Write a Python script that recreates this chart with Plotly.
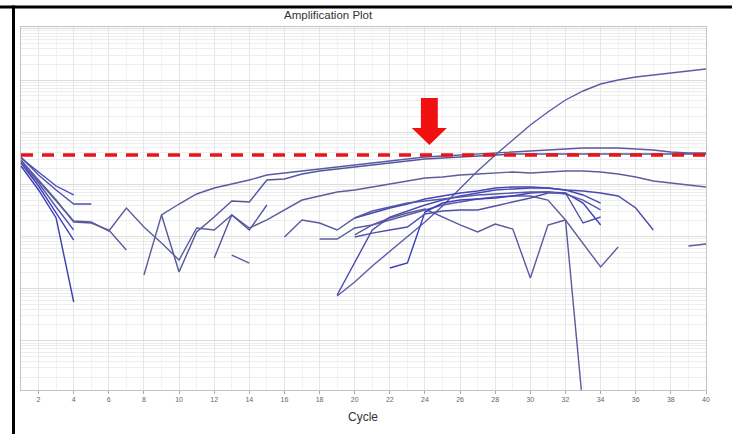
import plotly.graph_objects as go

# ---------------- data (delta Rn, log scale) ----------------
threshold = 0.0366
x_ticks = list(range(2, 41, 2))

c_L1 = [1, 2, 3, 4, 5]
v_L1 = [0.0335, 0.01511, 0.00779, 0.00419, 0.00419]
c_L2 = [1, 2, 3, 4, 5, 6, 7]
v_L2 = [0.0293, 0.01211, 0.00500, 0.00189, 0.00181, 0.00133, 0.000549]
c_L3 = [1, 2, 3, 4]
v_L3 = [0.0257, 0.00929, 0.00282, 0.000854]
c_L4 = [1, 2, 3, 4]
v_L4 = [0.0225, 0.00779, 0.00226, 0.0000552]
c_L5 = [1, 2, 3, 4]
v_L5 = [0.0320, 0.01726, 0.00929, 0.00625]
c_L6 = [1, 2, 3, 4]
v_L6 = [0.0268, 0.01061, 0.00367, 0.00133]

c_A = list(range(19, 41))
v_A = [0.0000719, 0.000133, 0.000271, 0.000525, 0.000976, 0.00189, 0.00384, 0.00851,
       0.01804, 0.0366, 0.0710, 0.1377, 0.2446, 0.416, 0.619, 0.843, 1.006, 1.149,
       1.255, 1.371, 1.498, 1.636]

c_B = list(range(8, 41))
v_B = [0.000182, 0.00258, 0.00419, 0.00653, 0.00851, 0.01015, 0.01211, 0.01511,
       0.01651, 0.01804, 0.0197, 0.0215, 0.0235, 0.0257, 0.0281, 0.0307, 0.0335,
       0.0350, 0.0366, 0.0382, 0.0400, 0.0418, 0.0436, 0.0456, 0.0477, 0.0498,
       0.0498, 0.0498, 0.0477, 0.0456, 0.0418, 0.0400, 0.0400]

c_C = list(range(9, 41))
v_C = [0.00258, 0.000208, 0.00122, 0.00236, 0.00479, 0.00458, 0.01211, 0.01266,
       0.01579, 0.01804, 0.0197, 0.0215, 0.0235, 0.0257, 0.0281, 0.0307, 0.0320,
       0.0335, 0.0350, 0.0366, 0.0382, 0.0382, 0.0382, 0.0382, 0.0382, 0.0382,
       0.0382, 0.0382, 0.0382, 0.0382, 0.0382, 0.0382]

c_D = list(range(1, 41))
v_D = [0.0281, 0.01159, 0.00479, 0.00198, 0.00189, 0.00127, 0.00351, 0.00152,
       0.000748, 0.000353, 0.00145, 0.00133, 0.00258, 0.00145, 0.00207, 0.00322,
       0.00500, 0.00597, 0.00713, 0.00779, 0.00889, 0.01015, 0.01159, 0.01323,
       0.01383, 0.01511, 0.01579, 0.01651, 0.01726, 0.01651, 0.01726, 0.01804,
       0.01804, 0.01726, 0.01579, 0.01383, 0.01159, 0.01061, 0.00971, 0.00889]

c_E = [12, 13, 14, 15]
v_E = [0.000385, 0.00258, 0.00133, 0.00401]
c_F = [13, 14]
v_F = [0.000440, 0.000309]

c_K = list(range(20, 34))
v_K = [0.00107, 0.00166, 0.00226, 0.00282, 0.00336, 0.00236, 0.00166, 0.00122,
       0.00173, 0.00139, 0.000159, 0.00166, 0.00207, 0.0000005]

c_P = list(range(18, 36))
v_P = [0.000893, 0.000893, 0.00145, 0.00166, 0.00207, 0.00258, 0.00322, 0.00401,
       0.00458, 0.00523, 0.00571, 0.00597, 0.00597, 0.00500, 0.00207, 0.000748,
       0.000259, 0.000627]

c_M = list(range(19, 38))
v_M = [0.0000752, 0.000323, 0.00133, 0.00236, 0.00308, 0.00401, 0.00500, 0.00597,
       0.00682, 0.00779, 0.00814, 0.00851, 0.00851, 0.00779, 0.00745, 0.00682,
       0.00597, 0.00351, 0.00133]

c_O = list(range(22, 35))
v_O = [0.000248, 0.000309, 0.00294, 0.00438, 0.00500, 0.00523, 0.00547, 0.00597,
       0.00682, 0.00713, 0.00682, 0.00438, 0.00166]

c_Q = list(range(20, 35))
v_Q = [0.00226, 0.00282, 0.00351, 0.00419, 0.00523, 0.00597, 0.00682, 0.00745,
       0.00851, 0.00889, 0.00889, 0.00851, 0.00779, 0.00625, 0.00438]

c_R = list(range(20, 35))
v_R = [0.000976, 0.00116, 0.00133, 0.00152, 0.00270, 0.00308, 0.00322, 0.00322,
       0.00384, 0.00458, 0.00547, 0.00682, 0.00682, 0.00181, 0.00236]

c_S = list(range(16, 35))
v_S = [0.000976, 0.00207, 0.00181, 0.00133, 0.00226, 0.00308, 0.00367, 0.00438,
       0.00479, 0.00523, 0.00571, 0.00625, 0.00653, 0.00682, 0.00713, 0.00713,
       0.00653, 0.00500, 0.00322]

c_N = [39, 40]
v_N = [0.000655, 0.000716]

curves = [
    (c_L1, v_L1, "#4f4fb0"), (c_L2, v_L2, "#5a5a98"), (c_L3, v_L3, "#3f3fc0"),
    (c_L4, v_L4, "#3c3cb8"), (c_L5, v_L5, "#4a4ac4"), (c_L6, v_L6, "#5555b0"),
    (c_A, v_A, "#5c5ca6"), (c_B, v_B, "#5a5aa0"), (c_C, v_C, "#55559c"),
    (c_D, v_D, "#5d5d9c"), (c_E, v_E, "#55559e"), (c_F, v_F, "#5a5a9a"),
    (c_K, v_K, "#5a5aa0"), (c_P, v_P, "#5d5d9d"), (c_M, v_M, "#4a4ab0"),
    (c_O, v_O, "#3d3dc4"), (c_Q, v_Q, "#4545bb"), (c_R, v_R, "#5050aa"),
    (c_S, v_S, "#5858a4"), (c_N, v_N, "#5a5aa0"),
]

# ---------------- figure ----------------
fig = go.Figure()
for cx, vy, col in curves:
    fig.add_trace(go.Scatter(x=cx, y=vy, mode="lines",
                             line=dict(color=col, width=1.4),
                             hoverinfo="skip", showlegend=False))

W, H = 732, 434
ml, mr, mt, mb = 21, 26, 27, 44
pw, ph = W - ml - mr, H - mt - mb

def px(xp):
    return (xp - ml) / pw

def py(yp):
    return (H - mb - yp) / ph

shapes = []
# threshold line
shapes.append(dict(type="line", xref="paper", yref="y", x0=0, x1=1,
                   y0=threshold, y1=threshold,
                   line=dict(color="#e8141a", width=3.5, dash="12px,9px")))
# red arrow pointing at the threshold near cycle 24
ac = 24.25
yt, yn, yk = 0.8044, 0.7218, 0.6749
path = (f"M {ac-0.48},{yt} L {ac+0.48},{yt} L {ac+0.48},{yn} L {ac+1.0},{yn} "
        f"L {ac},{yk} L {ac-1.0},{yn} L {ac-0.48},{yn} Z")
shapes.append(dict(type="path", xref="x", yref="paper", path=path,
                   fillcolor="#f01010", line=dict(width=0)))
# black picture frame (top and left)
shapes.append(dict(type="line", xref="paper", yref="paper",
                   x0=px(0), x1=px(W), y0=py(7), y1=py(7),
                   line=dict(color="black", width=3)))
shapes.append(dict(type="line", xref="paper", yref="paper",
                   x0=px(13.5), x1=px(13.5), y0=py(H), y1=py(5.5),
                   line=dict(color="black", width=3)))

annotations = [
    dict(text="Amplification Plot", xref="paper", yref="paper",
         x=px(328.5), y=py(15), showarrow=False, xanchor="center", yanchor="middle",
         font=dict(size=11.5, color="#333333", family="Liberation Sans, Arial")),
    dict(text="Cycle", xref="paper", yref="paper",
         x=px(363), y=py(417), showarrow=False, xanchor="center", yanchor="middle",
         font=dict(size=12, color="#333333", family="Liberation Sans, Arial")),
]

fig.update_layout(
    width=W, height=H, autosize=False,
    margin=dict(l=ml, r=mr, t=mt, b=mb),
    paper_bgcolor="white", plot_bgcolor="white",
    shapes=shapes, annotations=annotations,
    xaxis=dict(range=[1, 40], tickvals=x_ticks, ticktext=[str(t) for t in x_ticks],
               showgrid=True, gridcolor="#e6e6e6", gridwidth=1,
               minor=dict(dtick=1, tick0=1, showgrid=True, gridcolor="#f3f3f3"),
               showline=True, linecolor="#c4c4c4", mirror=True,
               ticks="outside", ticklen=3, tickcolor="#aaaaaa",
               tickfont=dict(size=7, color="#666666", family="Liberation Sans, Arial"),
               zeroline=False, fixedrange=True),
    yaxis=dict(type="log", range=[1.02 - 363 / 52.1, 1.02], dtick=1,
               showgrid=True, gridcolor="#dcdcdc",
               minor=dict(dtick="D1", showgrid=True, gridcolor="#ededed"),
               showline=True, linecolor="#c4c4c4", mirror=True,
               showticklabels=False, ticks="", zeroline=False, fixedrange=True),
)

fig.write_html("out.html", config={"displayModeBar": False},
               post_script="document.body.style.margin='0';document.body.style.padding='0';")
